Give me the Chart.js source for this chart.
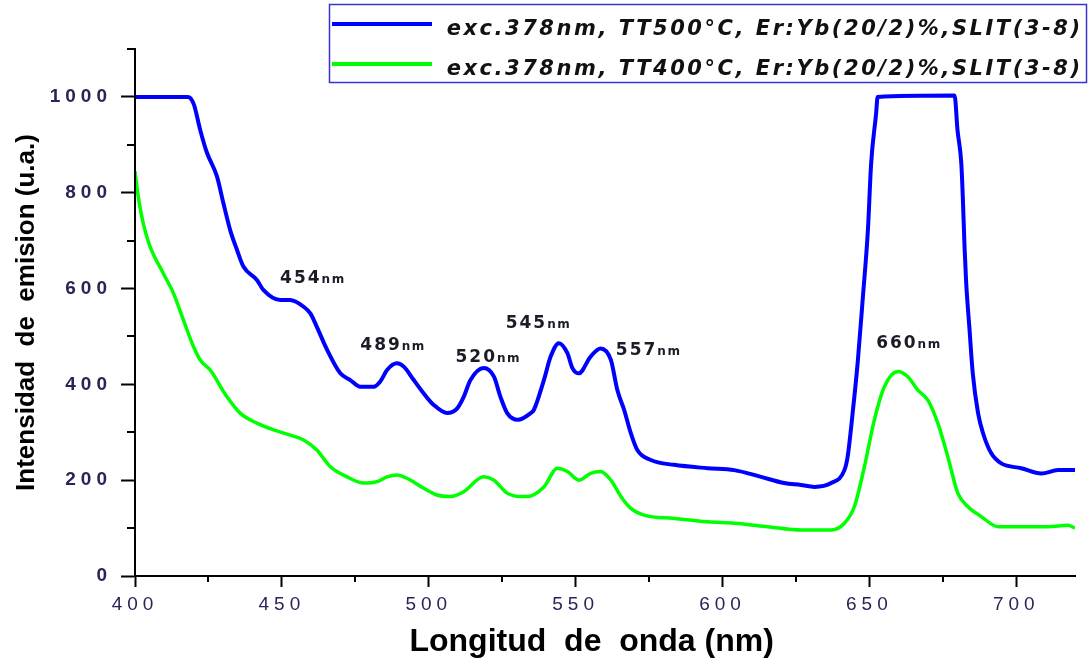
<!DOCTYPE html>
<html>
<head>
<meta charset="utf-8">
<script src="https://cdn.jsdelivr.net/npm/chart.js@4.4.1/dist/chart.umd.min.js"></script>
<style>
  html, body { margin: 0; padding: 0; background: #fff; }
  #wrap { width: 1092px; height: 661px; position: relative; }
</style>
</head>
<body>
<div id="wrap"><canvas id="c"></canvas></div>
<script>
// Emission spectrum, Er:Yb (20/2)% sample annealed at 500 °C
const wavelengthsTT500 = [400, 418, 420, 422.2, 424.4, 427.9, 430.1, 432.4, 434.7, 436.9, 441.5, 443.7, 449.4, 452.8, 457.4, 459.7, 461.9, 465.4, 469.9, 473.3, 476.7, 481.2, 483.5, 485.8, 489.2, 491.5, 494.9, 498.3, 501.7, 506.3, 509.7, 511.9, 514.2, 518.7, 522.2, 524.4, 526.7, 530.4, 534.7, 535.8, 539.2, 541.5, 544.3, 547.2, 548.9, 551.1, 555.1, 558.5, 562, 564.2, 566.5, 568.8, 571, 575.6, 583.5, 594.9, 604, 613.1, 621, 626.7, 631.3, 637, 641.5, 642.6, 644.3, 646, 647.8, 649.5, 650.6, 652.3, 652.8, 679, 680, 681.3, 681.8, 682.4, 682.9, 684.1, 685.2, 687, 688.7, 691.5, 694.9, 701.7, 708.6, 714.2, 720];
const intensityTT500 = [1000, 1000, 985, 931, 885, 834, 778, 722, 681, 646, 618, 597, 576, 576, 562, 548, 520, 472, 423, 409, 395, 395, 406, 430, 444, 437, 409, 381, 357, 340, 350, 374, 409, 434, 416, 374, 340, 326, 340, 347, 409, 458, 486, 465, 434, 423, 458, 475, 451, 388, 347, 298, 263, 242, 232, 225, 221, 207, 194, 190, 186, 194, 221, 249, 340, 444, 583, 722, 861, 966, 1000, 1003, 931, 861, 792, 687, 618, 514, 423, 340, 298, 256, 235, 225, 214, 221, 221];

// Emission spectrum, same composition annealed at 400 °C
const wavelengthsTT400 = [400, 401.1, 402.8, 405.1, 409.6, 413.1, 416.5, 419.9, 422.2, 425.6, 431.3, 435.8, 441.5, 447.2, 452.8, 457.4, 461.9, 466.5, 472.2, 477.8, 482.4, 485.8, 489.2, 492.6, 498.3, 502.8, 507.4, 511.9, 518.7, 522.2, 526.7, 531.3, 533.5, 539.2, 543.8, 547.2, 551.1, 555.1, 558.5, 562, 565.4, 568.8, 573.3, 583.5, 594.9, 604, 615.3, 626.7, 637, 641.5, 644.9, 648.3, 651.7, 655.1, 659.7, 663.1, 666.5, 669.9, 673.3, 676.7, 680.1, 683.5, 688.1, 693.8, 701.7, 710.8, 717.6, 720];
const intensityTT400 = [845, 792, 736, 688, 632, 590, 534, 479, 451, 430, 374, 340, 319, 305, 294, 284, 263, 228, 207, 194, 197, 207, 211, 204, 183, 169, 166, 176, 207, 200, 173, 166, 166, 186, 225, 218, 200, 214, 218, 200, 166, 141, 127, 120, 113, 110, 103, 96, 96, 110, 145, 228, 326, 395, 427, 416, 388, 367, 319, 249, 173, 145, 124, 103, 103, 103, 106, 100];

const seriesLabels = [
  'exc.378nm, TT500\u00B0C, Er:Yb(20/2)%,SLIT(3-8)',
  'exc.378nm, TT400\u00B0C, Er:Yb(20/2)%,SLIT(3-8)'
];

// Peak labels and where each one sits, in (wavelength, intensity) units
const peakLabels = ['454', '489', '520', '545', '557', '660'];
const peakLabelX = [449.4, 476.7, 509.1, 526.2, 563.7, 652.3];
const peakLabelY = [612, 472, 447, 518, 461, 476];

const xTickValues = [400, 450, 500, 550, 600, 650, 700];
const xMinorTicks = [425, 475, 525, 575, 625, 675];
const yTickValues = [0, 200, 400, 600, 800, 1000];
const yMinorTicks = [100, 300, 500, 700, 900, 1100];

const FONT = '"Liberation Sans", Arial, sans-serif';

const decorations = {
  id: 'decorations',
  // tick labels are drawn spaced out; titles (drawn after the datasets) are not
  beforeDraw(chart) { chart.ctx.letterSpacing = '5px'; },
  afterDatasetsDraw(chart) { chart.ctx.letterSpacing = '0px'; },
  afterDraw(chart) {
    const ctx = chart.ctx;
    const xs = chart.scales.x, ys = chart.scales.y;
    const area = chart.chartArea;
    ctx.save();
    ctx.letterSpacing = '0px';

    // minor tick marks
    ctx.strokeStyle = '#000';
    ctx.lineWidth = 2;
    ctx.beginPath();
    yMinorTicks.forEach(v => {
      const py = Math.round(ys.getPixelForValue(v));
      ctx.moveTo(area.left - 8, py);
      ctx.lineTo(area.left, py);
    });
    xMinorTicks.forEach(v => {
      const px = Math.round(xs.getPixelForValue(v));
      ctx.moveTo(px, area.bottom);
      ctx.lineTo(px, area.bottom + 6);
    });
    ctx.stroke();

    // peak labels: number followed by a smaller "nm"
    ctx.fillStyle = '#1c1c28';
    ctx.textAlign = 'left';
    ctx.textBaseline = 'alphabetic';
    peakLabels.forEach((txt, i) => {
      const px = xs.getPixelForValue(peakLabelX[i]);
      const py = ys.getPixelForValue(peakLabelY[i]);
      ctx.font = 'bold 17px "DejaVu Sans", sans-serif';
      ctx.letterSpacing = '2px';
      ctx.fillText(txt, px, py);
      const w = ctx.measureText(txt).width;
      ctx.font = 'bold 12px "DejaVu Sans", sans-serif';
      ctx.letterSpacing = '1.5px';
      ctx.fillText('nm', px + w, py);
    });

    // legend box
    ctx.letterSpacing = '0px';
    ctx.strokeStyle = '#3535d0';
    ctx.lineWidth = 1.5;
    ctx.strokeRect(329.5, 4.5, 757, 78);
    const rows = [24, 64];
    const legendFont = 'italic bold 21px "DejaVu Sans", sans-serif';
    ctx.font = legendFont;
    const w0 = ctx.measureText(seriesLabels[0]).width;
    const spacing = Math.max(0, (636 - w0) / seriesLabels[0].length);
    chart.data.datasets.forEach((ds, i) => {
      ctx.strokeStyle = ds.borderColor;
      ctx.lineWidth = 4;
      ctx.beginPath();
      ctx.moveTo(332, rows[i]);
      ctx.lineTo(432, rows[i]);
      ctx.stroke();
      ctx.fillStyle = '#111';
      ctx.font = legendFont;
      ctx.letterSpacing = spacing.toFixed(2) + 'px';
      ctx.textAlign = 'right';
      ctx.textBaseline = 'alphabetic';
      ctx.fillText(ds.label, 1080 + spacing, rows[i] + 11);
    });
    ctx.restore();
    ctx.letterSpacing = '0px';
  }
};

new Chart(document.getElementById('c'), {
  type: 'line',
  data: {
    datasets: [
      {
        label: seriesLabels[0],
        data: wavelengthsTT500.map((w, i) => ({ x: w, y: intensityTT500[i] })),
        borderColor: '#0000ff',
        borderWidth: 4,
        pointRadius: 0,
        cubicInterpolationMode: 'monotone'
      },
      {
        label: seriesLabels[1],
        data: wavelengthsTT400.map((w, i) => ({ x: w, y: intensityTT400[i] })),
        borderColor: '#00ff00',
        borderWidth: 3.5,
        pointRadius: 0,
        cubicInterpolationMode: 'monotone'
      }
    ]
  },
  options: {
    responsive: true,
    maintainAspectRatio: false,
    animation: false,
    events: [],
    layout: { padding: { left: 0, right: 17, top: 49, bottom: 0 } },
    plugins: { legend: { display: false }, tooltip: { enabled: false } },
    scales: {
      x: {
        type: 'linear',
        min: 400,
        max: 720,
        afterBuildTicks: s => { s.ticks = xTickValues.map(v => ({ value: v })); },
        afterFit: s => { s.height = 85; },
        grid: { drawOnChartArea: false, tickLength: 11, tickWidth: 2, tickColor: '#000', z: 1 },
        border: { color: '#000', width: 2, z: 1 },
        ticks: {
          color: '#2a2456',
          font: { family: FONT, size: 19 },
          padding: 6,
          maxRotation: 0,
          autoSkip: false,
          callback: v => String(v)
        },
        title: {
          display: true,
          text: 'Longitud  de  onda (nm)   ',
          color: '#000',
          font: { family: FONT, size: 32, weight: 'bold', lineHeight: 1 },
          padding: { top: 0, bottom: 3 }
        }
      },
      y: {
        type: 'linear',
        min: 0,
        max: 1100,
        afterBuildTicks: s => { s.ticks = yTickValues.map(v => ({ value: v })); },
        afterFit: s => { s.width = 135; },
        grid: { drawOnChartArea: false, tickLength: 14, tickWidth: 2, tickColor: '#000', z: 1 },
        border: { color: '#000', width: 2, z: 1 },
        ticks: {
          color: '#2a2456',
          font: { family: FONT, size: 19, weight: 'bold' },
          padding: 9,
          callback: v => String(v)
        },
        title: {
          display: true,
          text: 'Intensidad  de  emision (u.a.)',
          color: '#000',
          font: { family: FONT, size: 26, weight: 'bold', lineHeight: 1 },
          padding: { top: 14, bottom: 0 }
        }
      }
    }
  },
  plugins: [decorations]
});
</script>
</body>
</html>
